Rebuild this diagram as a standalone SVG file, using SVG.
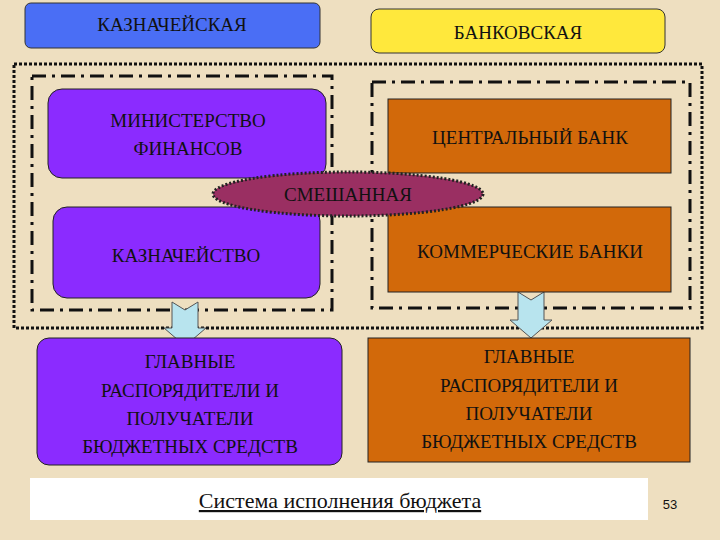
<svg xmlns="http://www.w3.org/2000/svg" width="720" height="540" viewBox="0 0 720 540">
<style>
text{font-family:"Liberation Serif","Times New Roman",serif;font-size:19px;fill:#111;text-anchor:middle}
.p{fill:#8B2BFF;stroke:#222;stroke-width:1}
.o{fill:#D2690A;stroke:#222;stroke-width:1}
.dd{fill:none;stroke:#111;stroke-width:3;stroke-dasharray:14 6 3 6}
.ar{fill:#B8E4EE;stroke:#555;stroke-width:1}
</style>
<rect width="720" height="540" fill="#EEDFC0"/>
<rect x="14" y="64" width="688" height="264" fill="none" stroke="#111" stroke-width="3" stroke-dasharray="3 2"/>
<g id="connectors">
<rect class="dd" x="32" y="76" width="300" height="234"/>
<rect class="dd" x="372" y="82" width="318" height="226"/>
<path class="ar" d="M172 302 L185 310 L198 302 L198 328 L206 328 L185 346 L164 328 L172 328 Z"/>
<path class="ar" d="M518 292 L531 300 L544 292 L544 320 L552 320 L531 338 L510 320 L518 320 Z"/>
</g>
<g id="kazn"><rect x="25" y="3" width="295" height="45" rx="6" fill="#4A6EF5" stroke="#333"/><text x="172" y="31">КАЗНАЧЕЙСКАЯ</text></g>
<g id="bank"><rect x="371" y="9" width="294" height="44" rx="8" fill="#FFE83C" stroke="#333"/><text x="518" y="39">БАНКОВСКАЯ</text></g>
<g id="minfin"><rect class="p" x="48" y="89" width="278" height="89" rx="14"/><text x="188" y="127">МИНИСТЕРСТВО</text><text x="188" y="155">ФИНАНСОВ</text></g>
<g id="cb"><rect class="o" x="388" y="99" width="283" height="74"/><text x="530" y="144">ЦЕНТРАЛЬНЫЙ БАНК</text></g>
<g id="treas"><rect class="p" x="53" y="207" width="267" height="91" rx="14"/><text x="186" y="262">КАЗНАЧЕЙСТВО</text></g>
<g id="comm"><rect class="o" x="388" y="207" width="283" height="85"/><text x="530" y="258">КОММЕРЧЕСКИЕ БАНКИ</text></g>
<g id="mixed"><ellipse cx="348" cy="194" rx="135" ry="22" fill="#9A2F62" stroke="#222" stroke-width="3" stroke-dasharray="2 2"/><text x="348" y="201">СМЕШАННАЯ</text></g>
<g id="recL"><rect class="p" x="37" y="338" width="305" height="127" rx="12"/><text x="190" y="368">ГЛАВНЫЕ</text><text x="190" y="397">РАСПОРЯДИТЕЛИ И</text><text x="190" y="425">ПОЛУЧАТЕЛИ</text><text x="190" y="453">БЮДЖЕТНЫХ СРЕДСТВ</text></g>
<g id="recR"><rect class="o" x="368" y="338" width="322" height="124"/><text x="529" y="363">ГЛАВНЫЕ</text><text x="529" y="392">РАСПОРЯДИТЕЛИ И</text><text x="529" y="420">ПОЛУЧАТЕЛИ</text><text x="529" y="448">БЮДЖЕТНЫХ СРЕДСТВ</text></g>
<g id="footer"><rect x="30" y="478" width="618" height="42" fill="#fff"/><text x="340" y="508" style="font-size:22px;text-decoration:underline">Система исполнения бюджета</text><text x="670" y="509" style="font-family:'Liberation Sans',sans-serif;font-size:13px">53</text></g>
</svg>
